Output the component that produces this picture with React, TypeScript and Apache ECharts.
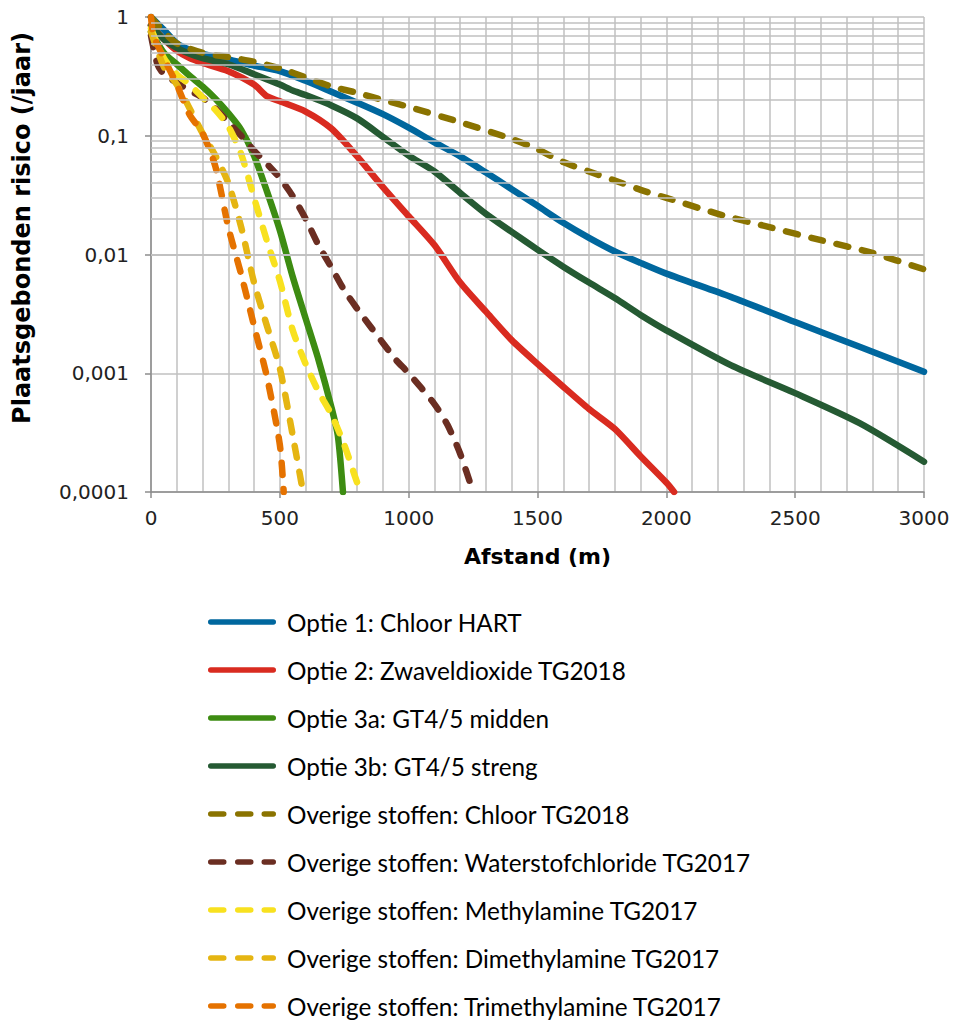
import React, { useEffect, useRef } from "react";
import * as echarts from "echarts";

// Distances (m) and risk values (/jaar) per series
const optie1X = [0, 50, 100, 150, 200, 300, 400, 500, 600, 700, 800, 900, 1000, 1100, 1200, 1300, 1400, 1500, 1600, 1700, 1800, 1900, 2000, 2250, 2500, 2750, 3000];
const optie1Y = [1.0, 0.78, 0.6, 0.53, 0.49, 0.44, 0.39, 0.35, 0.29, 0.235, 0.19, 0.152, 0.117, 0.088, 0.067, 0.049, 0.0355, 0.0257, 0.0185, 0.0138, 0.0106, 0.0085, 0.0069, 0.0044, 0.0027, 0.00167, 0.00103];

const optie2X = [0, 50, 100, 150, 200, 300, 400, 450, 500, 600, 700, 800, 900, 1000, 1100, 1200, 1300, 1400, 1500, 1600, 1700, 1800, 1900, 2000, 2030];
const optie2Y = [0.85, 0.65, 0.52, 0.45, 0.41, 0.35, 0.27, 0.215, 0.195, 0.16, 0.115, 0.067, 0.037, 0.021, 0.012, 0.0058, 0.0033, 0.0019, 0.0012, 0.00077, 0.0005, 0.00034, 0.0002, 0.00012, 0.0001];

const optie3aX = [0, 50, 100, 150, 200, 250, 300, 350, 400, 450, 500, 550, 600, 650, 700, 725, 745];
const optie3aY = [0.75, 0.5, 0.4, 0.32, 0.26, 0.205, 0.155, 0.112, 0.068, 0.034, 0.016, 0.0065, 0.0029, 0.0013, 0.00052, 0.0003, 0.0001];

const optie3bX = [0, 50, 100, 150, 200, 300, 400, 500, 550, 600, 700, 800, 900, 1000, 1100, 1200, 1300, 1400, 1500, 1600, 1700, 1800, 1900, 2000, 2250, 2500, 2750, 3000];
const optie3bY = [0.85, 0.65, 0.55, 0.49, 0.45, 0.4, 0.33, 0.27, 0.24, 0.22, 0.18, 0.14, 0.098, 0.068, 0.05, 0.033, 0.022, 0.0155, 0.011, 0.0079, 0.0058, 0.0043, 0.0031, 0.0023, 0.00117, 0.00068, 0.00038, 0.00018];

const chloorX = [0, 50, 100, 200, 300, 400, 500, 600, 700, 800, 900, 1000, 1200, 1400, 1500, 1600, 1700, 1800, 1900, 2000, 2200, 2400, 2600, 2800, 3000];
const chloorY = [1.0, 0.75, 0.6, 0.5, 0.46, 0.42, 0.37, 0.31, 0.26, 0.23, 0.2, 0.175, 0.13, 0.094, 0.077, 0.06, 0.05, 0.042, 0.035, 0.03, 0.022, 0.017, 0.0132, 0.0103, 0.0075];

const hclX = [0, 25, 50, 100, 150, 200, 250, 300, 350, 400, 450, 500, 550, 600, 650, 700, 750, 800, 850, 900, 950, 1000, 1100, 1150, 1200, 1250];
const hclY = [0.7, 0.4, 0.33, 0.28, 0.24, 0.21, 0.17, 0.13, 0.1, 0.075, 0.058, 0.044, 0.031, 0.02, 0.012, 0.0078, 0.005, 0.0035, 0.0025, 0.0018, 0.0013, 0.001, 0.00055, 0.00037, 0.00021, 0.0001];

const methylX = [0, 50, 100, 150, 200, 250, 300, 350, 400, 450, 500, 550, 600, 650, 700, 750, 800, 815];
const methylY = [0.8, 0.45, 0.33, 0.27, 0.21, 0.165, 0.12, 0.07, 0.03, 0.013, 0.006, 0.0023, 0.0012, 0.0007, 0.00045, 0.00025, 0.00012, 0.0001];

const dimethylX = [0, 50, 100, 150, 200, 250, 300, 350, 400, 450, 500, 550, 590];
const dimethylY = [0.75, 0.38, 0.27, 0.17, 0.105, 0.068, 0.04, 0.017, 0.0058, 0.0025, 0.0011, 0.0003, 0.0001];

const trimethylX = [0, 10, 50, 100, 150, 200, 250, 300, 350, 400, 450, 500, 515];
const trimethylY = [1.0, 0.7, 0.45, 0.27, 0.15, 0.105, 0.055, 0.017, 0.0068, 0.0025, 0.00093, 0.00025, 0.0001];

const yTickLabels: Record<string, string> = { "0.0001": "0,0001", "0.001": "0,001", "0.01": "0,01", "0.1": "0,1", "1": "1" };
const minorMultipliers = [2, 3, 4, 5, 6, 7, 8, 9];
const decades = [0.0001, 0.001, 0.01, 0.1];

const seriesDefs = [
  { name: "Optie 1: Chloor HART", x: optie1X, y: optie1Y, color: "#00679E", dashed: false },
  { name: "Optie 2: Zwaveldioxide TG2018", x: optie2X, y: optie2Y, color: "#D92B20", dashed: false },
  { name: "Optie 3a: GT4/5 midden", x: optie3aX, y: optie3aY, color: "#3D8C12", dashed: false },
  { name: "Optie 3b: GT4/5 streng", x: optie3bX, y: optie3bY, color: "#255A33", dashed: false },
  { name: "Overige stoffen: Chloor TG2018", x: chloorX, y: chloorY, color: "#8A7300", dashed: true },
  { name: "Overige stoffen: Waterstofchloride TG2017", x: hclX, y: hclY, color: "#6B2E22", dashed: true },
  { name: "Overige stoffen: Methylamine TG2017", x: methylX, y: methylY, color: "#F8E11F", dashed: true },
  { name: "Overige stoffen: Dimethylamine TG2017", x: dimethylX, y: dimethylY, color: "#E5B512", dashed: true },
  { name: "Overige stoffen: Trimethylamine TG2017", x: trimethylX, y: trimethylY, color: "#E57200", dashed: true },
];

function barPath(segs: number[][], h: number) {
  const r = h / 2;
  return (
    "path://" +
    segs
      .map(([a, b]) => `M${a + r},0H${b - r}A${r},${r},0,0,1,${b - r},${h}H${a + r}A${r},${r},0,0,1,${a + r},0Z`)
      .join("")
  );
}
const solidIcon = barPath([[0, 68]], 5.5);
const dashedIcon = barPath([[0, 18.5], [27, 45.5], [53.5, 68]], 5.5);

export default function App() {
  const ref = useRef<HTMLDivElement>(null);
  useEffect(() => {
    document.body.style.margin = "0";
    if (!ref.current) return;
    const chart = echarts.init(ref.current, null, { renderer: "svg" });
    const gridColor = "#c0c0c0";
    const minorValues: number[] = [];
    decades.forEach((d) => minorMultipliers.forEach((m) => minorValues.push(+(d * m).toPrecision(3))));

    const series: any[] = seriesDefs.map((s) => ({
      name: s.name,
      type: "line",
      data: s.x.map((xv, i) => [xv, s.y[i]]),
      showSymbol: false,
      symbol: "none",
      smooth: 0.25,
      lineStyle: {
        color: s.color,
        width: 6.5,
        type: s.dashed ? [12, 14] : "solid",
        cap: "round",
        join: "round",
      },
      itemStyle: { color: s.color },
      z: 3,
    }));
    series.unshift({
      name: "minorGrid",
      type: "line",
      data: [],
      silent: true,
      z: 1,
      markLine: {
        silent: true,
        symbol: "none",
        animation: false,
        label: { show: false },
        lineStyle: { color: gridColor, width: 1.5, type: "solid" },
        data: minorValues.map((v) => ({ yAxis: v })),
      },
    });

    chart.setOption({
      animation: false,
      grid: { left: 151, right: 31, top: 17, bottom: 534, containLabel: false },
      xAxis: {
        type: "value",
        min: 0,
        max: 3000,
        interval: 500,
        name: "Afstand (m)",
        nameLocation: "middle",
        nameGap: 53,
        nameTextStyle: { fontFamily: "DejaVu Sans", fontWeight: "bold", fontSize: 22, color: "#000" },
        axisLine: { show: true, lineStyle: { color: "#8c8c8c", width: 1.5 } },
        axisTick: { show: true, length: 6, lineStyle: { color: "#8c8c8c", width: 1.5 } },
        axisLabel: { fontFamily: "DejaVu Sans", fontSize: 20, color: "#222", margin: 16, formatter: (v: number) => String(v) },
        splitLine: { show: true, lineStyle: { color: gridColor, width: 1.5 } },
        minorTick: { show: false, splitNumber: 5 },
        minorSplitLine: { show: true, lineStyle: { color: gridColor, width: 1.5 } },
      },
      yAxis: {
        type: "log",
        logBase: 10,
        min: 0.0001,
        max: 1,
        axisLine: { show: true, lineStyle: { color: "#8c8c8c", width: 1.5 } },
        axisTick: { show: true, length: 6, lineStyle: { color: "#8c8c8c", width: 1.5 } },
        axisLabel: {
          fontFamily: "DejaVu Sans",
          fontSize: 20,
          color: "#222",
          margin: 22,
          formatter: (v: number) => yTickLabels[String(+v.toPrecision(3))] ?? String(v),
        },
        splitLine: { show: true, lineStyle: { color: gridColor, width: 1.5 } },
      },
      graphic: [
        {
          type: "text",
          x: 22,
          y: 228,
          rotation: Math.PI / 2,
          style: {
            text: "Plaatsgebonden risico (/jaar)",
            fontFamily: "DejaVu Sans",
            fontWeight: "bold",
            fontSize: 24,
            fill: "#000",
            align: "center",
            verticalAlign: "middle",
          },
        },
      ],
      legend: {
        data: seriesDefs.map((s) => ({ name: s.name, icon: s.dashed ? dashedIcon : solidIcon })),
        orient: "vertical",
        left: 208,
        top: 610,
        padding: 0,
        itemWidth: 68,
        itemHeight: 5.5,
        itemGap: 24,
        selectedMode: false,
        itemStyle: { borderWidth: 0 },
        textStyle: { fontFamily: "Lato", fontSize: 24.3, lineHeight: 24, color: "#000", padding: [0, 0, 0, 6] },
      },
      series,
    });
    return () => chart.dispose();
  }, []);
  return <div ref={ref} style={{ width: 955, height: 1026 }} />;
}
